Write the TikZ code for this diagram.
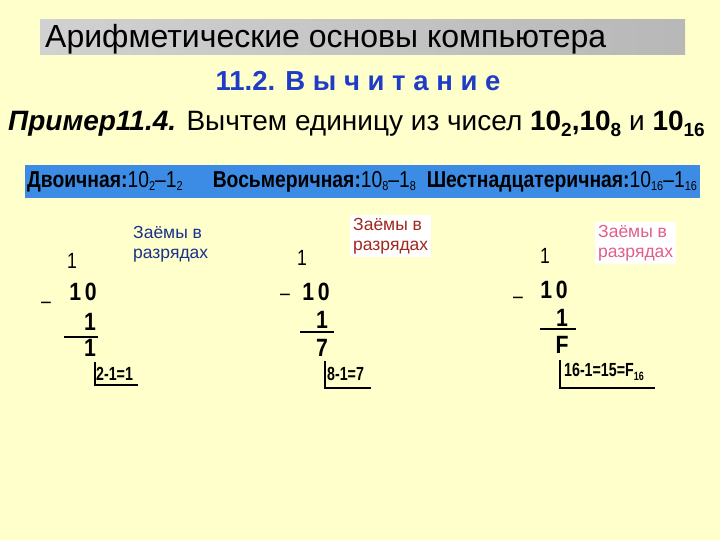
\documentclass[tikz,border=0pt]{standalone}
\usepackage{fontspec}
\setmainfont{Liberation Sans}
\newcommand{\lo}[1]{\raisebox{-0.25ex}{\fontsize{13}{13}\selectfont #1}}
\begin{document}
\begin{tikzpicture}[x=1pt,y=-1pt,
  dig/.style={font=\fontsize{25}{25}\selectfont\bfseries,inner sep=0pt,xscale=0.85},
  thin1/.style={font=\fontsize{22}{22}\selectfont,inner sep=0pt,xscale=0.8},
  rule/.style={line width=1.2pt},
  note/.style={font=\fontsize{17.5}{20}\selectfont,align=left,inner sep=3pt},
  eq/.style={font=\fontsize{19}{19}\selectfont\bfseries,inner sep=0pt,xscale=0.75}]
\fill[color={rgb,255:red,255;green,255;blue,204}] (0,0) rectangle (720,540);
\shade[left color=black!18,right color=black!28] (40,20) rectangle (685,55);
\node[anchor=west,inner sep=0pt,font=\fontsize{32}{32}\selectfont] (title) at (45,39) {Арифметические основы компьютера};
\node[font=\fontsize{27.5}{27.5}\selectfont\bfseries,text={rgb,255:red,30;green,60;blue,200},inner sep=0pt] (sub) at (358,81) {11.2. В ы ч и т а н и е};
\node[anchor=west,inner sep=0pt,font=\fontsize{28}{28}\selectfont] (ex) at (8,124) {\textbf{\textit{Пример11.4.}} Вычтем единицу из чисел \textbf{10\raisebox{-0.35ex}{\fontsize{19}{19}\selectfont 2},10\raisebox{-0.35ex}{\fontsize{19}{19}\selectfont 8}} и \textbf{10\raisebox{-0.35ex}{\fontsize{19}{19}\selectfont 16}}};
\fill[color={rgb,255:red,60;green,140;blue,230}] (25,165) rectangle (700,198);
\node[anchor=west,inner sep=0pt,xscale=0.84,font=\fontsize{23}{23}\selectfont] (bar) at (27,182) {\textbf{Двоичная:}10\lo{2}–1\lo{2}\quad\ \ \textbf{Восьмеричная:}10\lo{8}–1\lo{8}\ \ \textbf{Шестнадцатеричная:}10\lo{16}–1\lo{16}};
\node[note,anchor=north west,text={rgb,255:red,25;green,50;blue,140}] (n1) at (130,223) {Заёмы в\\разрядах};
\node[note,anchor=north west,fill=white,text={rgb,255:red,160;green,40;blue,30}] (n2) at (350,215) {Заёмы в\\разрядах};
\node[note,anchor=north west,fill=white,text={rgb,255:red,225;green,95;blue,135}] (n3) at (595,222) {Заёмы в\\разрядах};
% column 1
\node[thin1] (a1) at (72,261) {1};
\node[dig] (a2) at (83,292) {1\,0};
\node[thin1] (am) at (46,305) {–};
\node[dig] (a3) at (90,322) {1};
\draw[rule] (64,337) -- (98,337);
\node[dig] (a4) at (90,348) {1};
\node[eq,anchor=west] (a5) at (96,374) {2-1=1};
\draw[rule] (95,362) |- (138,385);
% column 2
\node[thin1] (b1) at (302,258) {1};
\node[thin1] (bm) at (285,297) {–};
\node[dig] (b2) at (316,292) {1\,0};
\node[dig] (b3) at (322,320) {1};
\draw[rule] (300,332) -- (334,332);
\node[dig] (b4) at (322,348) {7};
\node[eq,anchor=west] (b5) at (327,374) {8-1=7};
\draw[rule] (325,361) |- (371,388);
% column 3
\node[thin1] (c1) at (545,256) {1};
\node[thin1] (cm) at (518,300) {–};
\node[dig] (c2) at (554,290) {1\,0};
\node[dig] (c3) at (562,318) {1};
\draw[rule] (540,329) -- (576,329);
\node[dig] (c4) at (562,345) {F};
\node[eq,anchor=west] (c5) at (564,372) {16-1=15=F\raisebox{-0.4ex}{\fontsize{12}{12}\selectfont 16}};
\draw[rule] (560,360) |- (655,388);
\end{tikzpicture}
\end{document}
